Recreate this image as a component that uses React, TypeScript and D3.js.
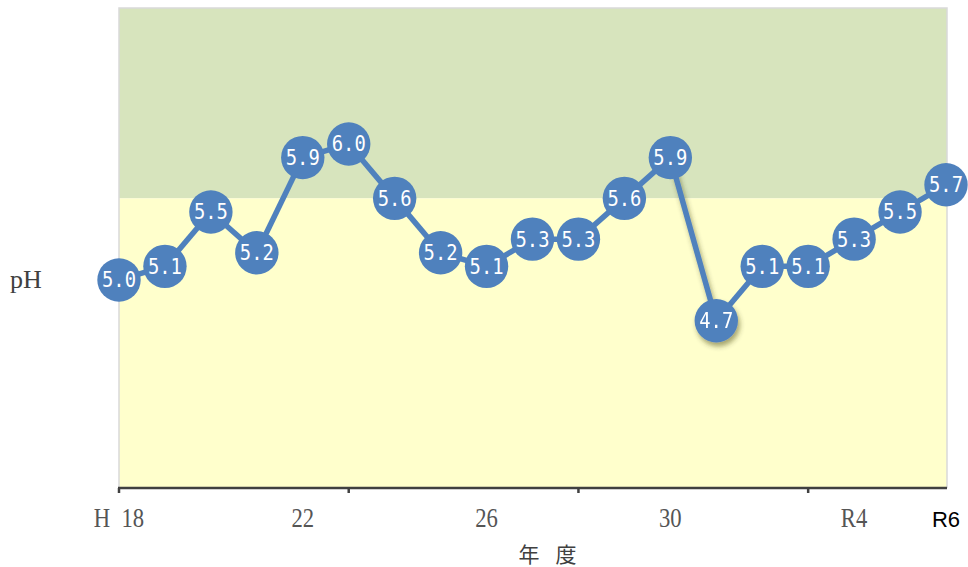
import React from "react";
import * as d3 from "d3";

const years = ["H18","H19","H20","H21","H22","H23","H24","H25","H26","H27","H28","H29","H30","R1","R2","R3","R4","R5","R6"];
const phValues = [5.0, 5.1, 5.5, 5.2, 5.9, 6.0, 5.6, 5.2, 5.1, 5.3, 5.3, 5.6, 5.9, 4.7, 5.1, 5.1, 5.3, 5.5, 5.7];
const tickLabels: [number, string][] = [[0, "H 18"], [4, "22"], [8, "26"], [12, "30"], [16, "R4"]];
const lastLabel = "R6";
const tickMarks = [0, 5, 10, 15];
const bandThreshold = 5.6;
const yDomain: [number, number] = [3.47, 7.0];
const xTitle = ["年", "度"];

const W = 968, H = 567;
const left = 119, right = 947, top = 8, bottom = 488;

export default function App() {
  const x = d3.scalePoint<string>().domain(years).range([left, right - 1]);
  const y = d3.scaleLinear().domain(yDomain).range([bottom, top]);
  const blue = "#4f81bd";
  const yBand = y(bandThreshold);
  const shadowIdx = phValues.indexOf(4.7);
  const sx = 0.84;

  return (
    <svg width={W} height={H} style={{ position: "absolute", left: 0, top: 0 }}>
      <defs>
        <filter id="shadow" x="-50%" y="-50%" width="200%" height="200%">
          <feDropShadow dx="2" dy="4" stdDeviation="2.5" floodColor="#3a3a10" floodOpacity="0.45" />
        </filter>
      </defs>
      <rect x={0} y={0} width={W} height={H} fill="#fff" />
      <rect x={left} y={top} width={right - left} height={yBand - top} fill="#d7e4bd" />
      <rect x={left} y={yBand} width={right - left} height={bottom - yBand} fill="#ffffcc" />
      <path d={`M${left},${bottom}V${top}H${right}V${bottom}`} fill="none" stroke="#d9d9d9" strokeWidth={1.5} />
      <line x1={left - 1} x2={right} y1={bottom} y2={bottom} stroke="#404040" strokeWidth={2.5} />
      {tickMarks.map((i) => (
        <line key={i} x1={x(years[i])} x2={x(years[i])} y1={bottom} y2={bottom + 5} stroke="#404040" strokeWidth={2.5} />
      ))}
      {tickLabels.map(([i, t]) => (
        <text key={t} x={x(years[i])} y={527} textAnchor="middle" fontFamily="'Liberation Serif', serif" fontSize={27} fill="#555"
          style={{ whiteSpace: "pre" }} transform={`translate(${x(years[i])! * (1 - sx)},0) scale(${sx},1)`}>
          {t.replace(" ", "  ")}
        </text>
      ))}
      <text x={946} y={527} textAnchor="middle" fontFamily="'Liberation Sans', Arial, sans-serif" fontSize={22} fill="#000">{lastLabel}</text>
      {xTitle.map((c, k) => (
        <text key={c} x={529 + k * 37} y={562} textAnchor="middle" fontFamily="'Noto Sans CJK JP', sans-serif" fontSize={21} fill="#404040">{c}</text>
      ))}
      <text x={26} y={288} textAnchor="middle" fontFamily="'Liberation Serif', serif" fontSize={26} fill="#404040">pH</text>
      {phValues.slice(1).map((v, k) => {
        const i0 = k, i1 = k + 1;
        return (
          <line key={k} x1={x(years[i0])} y1={y(phValues[i0])} x2={x(years[i1])} y2={y(v)} stroke={blue} strokeWidth={5.5}
            filter={i1 === shadowIdx ? "url(#shadow)" : undefined} />
        );
      })}
      {phValues.map((v, i) => (
        <g key={i} filter={i === shadowIdx ? "url(#shadow)" : undefined}>
          <circle cx={x(years[i])} cy={y(v)} r={21.7} fill={blue} />
          <text x={x(years[i])} y={y(v) + 7.5} textAnchor="middle" fontFamily="'DejaVu Sans Mono', monospace" fontSize={21} fill="#fff" textLength={34} lengthAdjust="spacingAndGlyphs">
            {v.toFixed(1)}
          </text>
        </g>
      ))}
    </svg>
  );
}
